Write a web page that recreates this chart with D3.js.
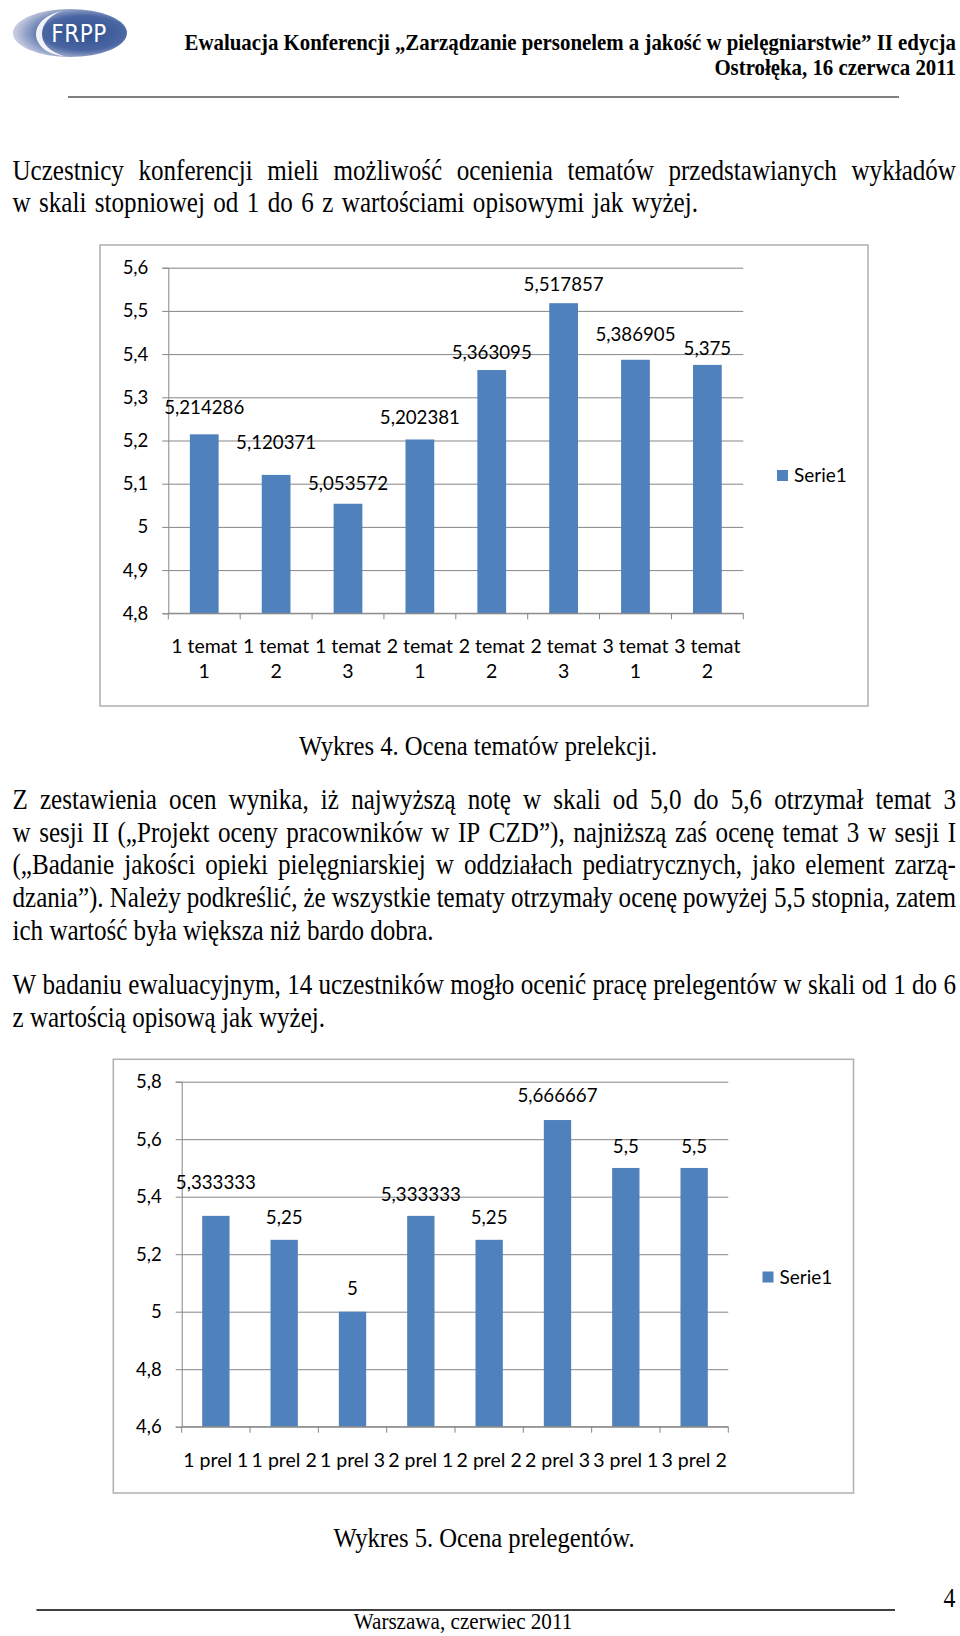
<!DOCTYPE html>
<html>
<head>
<meta charset="utf-8">
<script src="https://cdn.jsdelivr.net/npm/d3@7"></script>
<style>
  body { margin: 0; background: #fff; }
  svg { display: block; }
</style>
</head>
<body>
<div id="page"></div>
<script>
// ---- data ----
var topics = ["1 temat 1", "1 temat 2", "1 temat 3", "2 temat 1", "2 temat 2", "2 temat 3", "3 temat 1", "3 temat 2"];
var topicScores = [5.214286, 5.120371, 5.053572, 5.202381, 5.363095, 5.517857, 5.386905, 5.375];
var topicTicks = [4.8, 4.9, 5, 5.1, 5.2, 5.3, 5.4, 5.5, 5.6];

var speakers = ["1 prel 1", "1 prel 2", "1 prel 3", "2 prel 1", "2 prel 2", "2 prel 3", "3 prel 1", "3 prel 2"];
var speakerScores = [5.333333, 5.25, 5, 5.333333, 5.25, 5.666667, 5.5, 5.5];
var speakerTicks = [4.6, 4.8, 5, 5.2, 5.4, 5.6, 5.8];

var seriesName = "Serie1";

var headerTitle = "Ewaluacja Konferencji \u201EZarządzanie personelem a jakość w pielęgniarstwie\u201D II edycja";
var headerPlace = "Ostrołęka, 16 czerwca 2011";
var para1 = [
  "Uczestnicy konferencji mieli możliwość ocenienia tematów przedstawianych wykładów",
  "w skali stopniowej od 1 do 6 z wartościami opisowymi jak wyżej."
];
var caption1 = "Wykres 4. Ocena tematów prelekcji.";
var para2 = [
  "Z zestawienia ocen wynika, iż najwyższą notę w skali od 5,0 do 5,6 otrzymał temat 3",
  "w sesji II (\u201EProjekt oceny pracowników w IP CZD\u201D), najniższą zaś ocenę temat 3 w sesji I",
  "(\u201EBadanie jakości opieki pielęgniarskiej w oddziałach pediatrycznych, jako element zarzą-",
  "dzania\u201D). Należy podkreślić, że wszystkie tematy otrzymały ocenę powyżej 5,5 stopnia, zatem",
  "ich wartość była większa niż bardo dobra."
];
var para3 = [
  "W badaniu ewaluacyjnym, 14 uczestników mogło ocenić pracę prelegentów w skali od 1 do 6",
  "z wartością opisową jak wyżej."
];
var caption2 = "Wykres 5. Ocena prelegentów.";
var footerText = "Warszawa, czerwiec 2011";
var pageNumber = "4";

// ---- layout ----
var W = 960, H = 1636;
var serif = "'Liberation Serif', 'Times New Roman', serif";
var chartFont = "Lato, 'Open Sans', sans-serif";
var barColor = "#4f81bd";
var gridColor = "#868686";

var svg = d3.select("#page").append("svg")
    .attr("width", W)
    .attr("height", H);
svg.append("rect").attr("width", W).attr("height", H).attr("fill", "#fff");

var comma = function (v) { return String(v).replace(".", ","); };

// one line of body text; when x1 is given the words are spread to reach it
function textLine(str, x0, x1, base, size, sx, weight) {
    var g = svg.append("g");
    if (x1 == null) {
        g.append("text")
            .attr("transform", "translate(" + x0 + "," + base + ") scale(" + sx + ",1)")
            .attr("font-family", serif)
            .attr("font-size", size)
            .attr("font-weight", weight || "normal")
            .text(str);
        return g;
    }
    var words = str.split(" ");
    var nodes = words.map(function (w) {
        return g.append("text")
            .attr("font-family", serif)
            .attr("font-size", size)
            .attr("font-weight", weight || "normal")
            .text(w);
    });
    var widths = nodes.map(function (n) { return n.node().getComputedTextLength() * sx; });
    var gap = (x1 - x0 - d3.sum(widths)) / (words.length - 1);
    var x = x0;
    nodes.forEach(function (n, i) {
        n.attr("transform", "translate(" + x + "," + base + ") scale(" + sx + ",1)");
        x += widths[i] + gap;
    });
    return g;
}

function centeredLine(str, cx, base, size, sx) {
    svg.append("text")
        .attr("transform", "translate(" + cx + "," + base + ") scale(" + sx + ",1)")
        .attr("text-anchor", "middle")
        .attr("font-family", serif)
        .attr("font-size", size)
        .text(str);
}

// ---- header ----
var defs = svg.append("defs");
var grad = defs.append("radialGradient").attr("id", "logoGrad")
    .attr("cx", "0.62").attr("cy", "0.5").attr("r", "0.6");
grad.append("stop").attr("offset", "0%").attr("stop-color", "#30508f");
grad.append("stop").attr("offset", "60%").attr("stop-color", "#4a66a3");
grad.append("stop").attr("offset", "100%").attr("stop-color", "#c3c9df");

var logo = svg.append("g");
logo.append("ellipse").attr("cx", 70).attr("cy", 33).attr("rx", 57).attr("ry", 24)
    .attr("fill", "url(#logoGrad)");
logo.append("path")
    .attr("d", "M62,11 C40,16 32,30 38,42 C42,50 52,55 64,56 C50,52 42,44 42,34 C42,24 50,15 62,11 Z")
    .attr("fill", "#fff").attr("opacity", 0.9);
logo.append("text")
    .attr("x", 79).attr("y", 42)
    .attr("text-anchor", "middle")
    .attr("font-family", "'DejaVu Sans Condensed', 'Liberation Sans Narrow', sans-serif")
    .attr("font-size", 24)
    .attr("letter-spacing", 0.5)
    .attr("fill", "#fff")
    .text("FRPP");

var titleSize = 24;
var probe = svg.append("text").attr("font-family", serif).attr("font-weight", "bold")
    .attr("font-size", titleSize).text(headerTitle);
var titleSx = 772 / probe.node().getComputedTextLength();
probe.remove();
[headerTitle, headerPlace].forEach(function (t, i) {
    svg.append("text")
        .attr("transform", "translate(956," + (50 + i * 25) + ") scale(" + titleSx + ",1)")
        .attr("text-anchor", "end")
        .attr("font-family", serif)
        .attr("font-weight", "bold")
        .attr("font-size", titleSize)
        .text(t);
});
svg.append("line").attr("x1", 68).attr("x2", 899).attr("y1", 97).attr("y2", 97)
    .attr("stroke", "#000").attr("stroke-width", 1);

// ---- body text ----
var bodySize = 28.5, bodySx = 0.88, left = 12.5, right = 956;
textLine(para1[0], left, right, 180, bodySize, bodySx);
textLine(para1[1], left, 698, 211.5, bodySize, bodySx);
para2.forEach(function (t, i) {
    textLine(t, left, i < para2.length - 1 ? right : null, 809 + i * 32.7, bodySize, bodySx);
});
para3.forEach(function (t, i) {
    textLine(t, left, i < para3.length - 1 ? right : null, 994 + i * 32.5, bodySize, bodySx);
});
centeredLine(caption1, 478, 755, 28, bodySx);
centeredLine(caption2, 484, 1547, 28, bodySx);

// ---- charts ----
function drawChart(o) {
    var g = svg.append("g");

    g.append("rect")
        .attr("x", o.box[0]).attr("y", o.box[1])
        .attr("width", o.box[2] - o.box[0]).attr("height", o.box[3] - o.box[1])
        .attr("fill", "#fff").attr("stroke", "#b4b4b4").attr("stroke-width", 1.6);

    var x = d3.scaleBand()
        .domain(o.categories)
        .range([o.x0, o.x1])
        .paddingInner(0.6)
        .paddingOuter(0.3);
    var y = d3.scaleLinear()
        .domain(d3.extent(o.ticks))
        .range([o.yBot, o.yTop]);

    // gridlines
    g.append("g")
        .attr("transform", "translate(" + o.x0 + ",0)")
        .call(d3.axisLeft(y).tickValues(o.ticks).tickSize(-(o.x1 - o.x0)).tickFormat(""))
        .call(function (s) {
            s.select(".domain").remove();
            s.selectAll("line").attr("stroke", gridColor);
        });

    // y axis with labels
    g.append("g")
        .attr("transform", "translate(" + o.x0 + ",0)")
        .call(d3.axisLeft(y).tickValues(o.ticks).tickSize(6).tickPadding(14).tickFormat(comma))
        .call(function (s) {
            s.select(".domain").attr("stroke", gridColor);
            s.selectAll("line").attr("stroke", gridColor);
            s.selectAll("text")
                .attr("font-family", chartFont)
                .attr("font-size", 18.5)
                .attr("fill", "#000");
        });

    // bars
    g.append("g").selectAll("rect")
        .data(o.values)
        .enter().append("rect")
        .attr("x", function (d, i) { return x(o.categories[i]); })
        .attr("y", function (d) { return y(d); })
        .attr("width", x.bandwidth())
        .attr("height", function (d) { return o.yBot - y(d); })
        .attr("fill", barColor);

    // category axis with boundary ticks
    g.append("line")
        .attr("x1", o.x0).attr("x2", o.x1).attr("y1", o.yBot).attr("y2", o.yBot)
        .attr("stroke", gridColor);
    g.append("g").selectAll("line")
        .data(d3.range(o.categories.length + 1))
        .enter().append("line")
        .attr("x1", function (i) { return o.x0 + i * x.step(); })
        .attr("x2", function (i) { return o.x0 + i * x.step(); })
        .attr("y1", o.yBot).attr("y2", o.yBot + 6)
        .attr("stroke", gridColor);

    var cat = g.append("g").selectAll("text")
        .data(o.categories)
        .enter().append("text")
        .attr("text-anchor", "middle")
        .attr("font-family", chartFont)
        .attr("font-size", 19.5)
        .attr("fill", "#000");
    cat.each(function (c) {
        var t = d3.select(this);
        var cx = x(c) + x.bandwidth() / 2;
        var lines = o.wrap ? [c.slice(0, c.lastIndexOf(" ")), c.slice(c.lastIndexOf(" ") + 1)] : [c];
        lines.forEach(function (l, k) {
            t.append("tspan")
                .attr("x", cx)
                .attr("y", o.yBot + 33 + k * 25)
                .attr("dy", "0.35em")
                .text(l);
        });
    });

    // data labels
    g.append("g").selectAll("text")
        .data(o.values)
        .enter().append("text")
        .attr("x", function (d, i) { return x(o.categories[i]) + x.bandwidth() / 2; })
        .attr("y", function (d, i) { return y(d) - o.lift[i]; })
        .attr("dy", "0.35em")
        .attr("text-anchor", "middle")
        .attr("font-family", chartFont)
        .attr("font-size", 18.7)
        .attr("fill", "#000")
        .text(comma);

    // legend
    var lg = g.append("g").attr("transform", "translate(" + o.legend[0] + "," + o.legend[1] + ")");
    lg.append("rect").attr("x", 0).attr("y", -5.5).attr("width", 11).attr("height", 11).attr("fill", barColor);
    lg.append("text")
        .attr("x", 17).attr("dy", "0.35em")
        .attr("font-family", chartFont)
        .attr("font-size", 19)
        .text(seriesName);
}

drawChart({
    categories: topics, values: topicScores, ticks: topicTicks,
    box: [100, 245, 868, 706],
    x0: 168.3, x1: 743.3, yTop: 267.7, yBot: 613.3,
    wrap: true,
    lift: [27, 32, 20, 22, 18, 19, 25, 16],
    legend: [777, 475.5]
});

drawChart({
    categories: speakers, values: speakerScores, ticks: speakerTicks,
    box: [113.3, 1059.3, 853.5, 1493],
    x0: 181.7, x1: 728.3, yTop: 1081.7, yBot: 1426.7,
    wrap: false,
    lift: [33, 22, 23, 21, 22, 25, 21, 21],
    legend: [762.5, 1277]
});

// ---- footer ----
svg.append("line").attr("x1", 36.5).attr("x2", 895).attr("y1", 1610).attr("y2", 1610)
    .attr("stroke", "#000").attr("stroke-width", 1.5);
svg.append("text")
    .attr("transform", "translate(949.5,1607) scale(" + bodySx + ",1)")
    .attr("text-anchor", "middle")
    .attr("font-family", serif)
    .attr("font-size", 27)
    .text(pageNumber);
centeredLine(footerText, 463, 1629, 24, bodySx);
</script>
</body>
</html>
